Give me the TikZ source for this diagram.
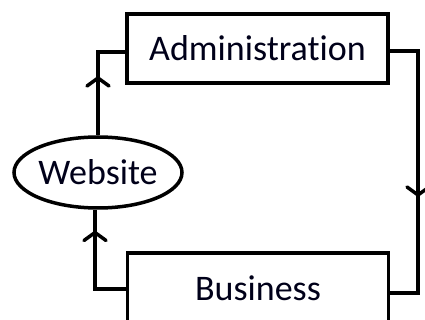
\documentclass[tikz,border=0pt]{standalone}
\usepackage{fontspec}
\setmainfont{Carlito}[Ligatures=CommonOff]
\usetikzlibrary{arrows.meta,decorations.markings,shapes.geometric}
\begin{document}
\begin{tikzpicture}[x=1pt,y=-1pt,
  box/.style={draw,line width=3.5pt,inner sep=0pt,minimum width=261pt},
  flow/.style={line width=3.5pt,line join=miter},
  midarrow/.style={postaction={decorate},decoration={markings,
    mark=at position #1 with {\arrow{Straight Barb[length=8pt,width=22pt,line width=3.5pt,round]}}}},
  lbl/.style={font=\fontsize{36}{40}\selectfont,text=black!90!blue}]
\useasboundingbox (0,0) rectangle (425,320);
\clip (0,0) rectangle (425,320);
\node[box,minimum height=69pt] (admin) at (257.5,48.5) {};
\node[lbl] at (admin.center) {Administration};
\node[box,minimum height=80pt] (bus) at (258,293) {};
\node[lbl] at (258,288) {Business};
\node[draw,ellipse,line width=3.5pt,minimum width=168pt,minimum height=71pt,inner sep=0pt] (web) at (98,172.5) {};
\node[lbl] at (web.center) {Website};
\coordinate (tr) at (418,51);
\coordinate (br) at (418,293);
\coordinate (tl) at (98,52);
\coordinate (bl) at (95,289);
\draw[flow,midarrow=174pt] (admin.east |- tr) -- (tr) -- (br) -- (bus.east |- br);
\draw[flow,midarrow=89pt] (bus.west |- bl) -- (bl) -- (bl |- web.south);
\draw[flow,midarrow=59pt] (web.north) -- (tl) -- (admin.west |- tl);
\end{tikzpicture}
\end{document}
